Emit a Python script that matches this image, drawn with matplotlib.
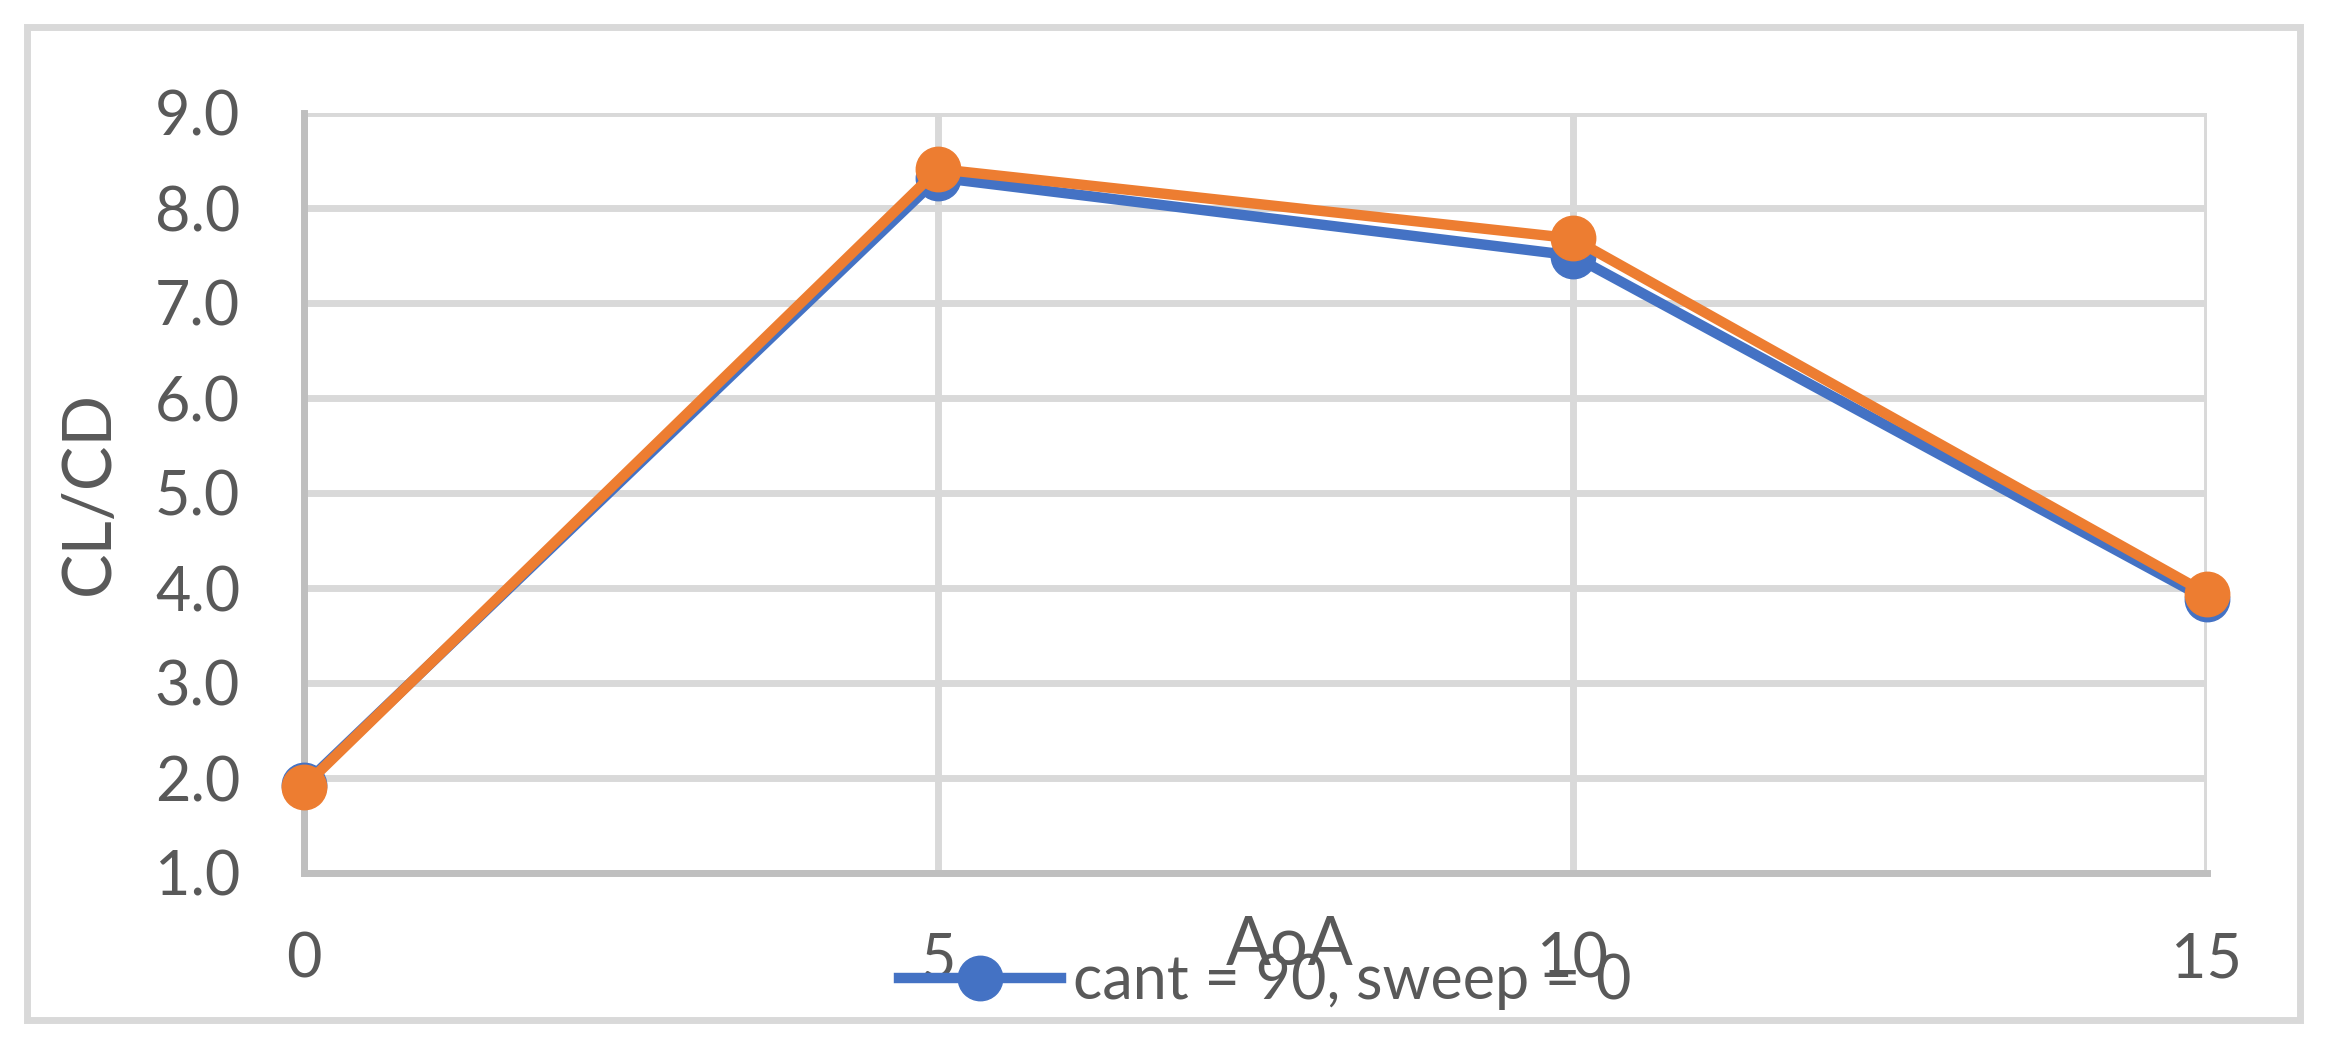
import matplotlib
matplotlib.use("Agg")
import matplotlib.pyplot as plt
from matplotlib.patches import Rectangle

# Data
aoa = [0, 5, 10, 15]
series_names = ["cant = 90, sweep = 0", "cant = 90, sweep = 10"]
series_blue = [1.93, 8.32, 7.50, 3.88]
series_orange = [1.91, 8.41, 7.68, 3.94]
y_ticks = [1.0, 2.0, 3.0, 4.0, 5.0, 6.0, 7.0, 8.0, 9.0]
x_ticks = [0, 5, 10, 15]
x_title = "AoA"
y_title = "CL/CD"

W, H = 2327, 1050
DPI = 100
plt.rcParams['font.family'] = ['Lato', 'DejaVu Sans']
TXT = '#595959'
GRID = '#D9D9D9'
AXC = '#BFBFBF'
BLUE = '#4472C4'
ORANGE = '#ED7D31'
FS = 44

fig = plt.figure(figsize=(W / DPI, H / DPI), dpi=DPI)
fig.patch.set_facecolor('white')

# outer chart border
fig.add_artist(Rectangle((27 / W, 1 - 1020 / H), (2300 - 27) / W, (1020 - 27) / H,
                         transform=fig.transFigure, fill=False, edgecolor=GRID, lw=5))

x0, x1 = 304, 2207
y0, y1 = 113, 873
ax = fig.add_axes([x0 / W, 1 - y1 / H, (x1 - x0) / W, (y1 - y0) / H])
ax.set_xlim(0, 15)
ax.set_ylim(1, 9)

for s in ['top', 'right']:
    ax.spines[s].set_visible(False)
for s in ['left', 'bottom']:
    ax.spines[s].set_color(AXC)
    ax.spines[s].set_linewidth(5)

ax.set_xticks(x_ticks)
ax.set_xticklabels([str(v) for v in x_ticks])
ax.set_yticks(y_ticks)
ax.set_yticklabels([f"{v:.1f}" for v in y_ticks])
ax.tick_params(axis='both', length=0, labelsize=FS, labelcolor=TXT)
ax.tick_params(axis='x', pad=42)
ax.tick_params(axis='y', pad=46)

ax.grid(True, color=GRID, lw=5)
ax.set_axisbelow(True)

l1, = ax.plot(aoa, series_blue, color=BLUE, lw=7.5, marker='o', ms=32,
              label=series_names[0], clip_on=False, zorder=3)
l2, = ax.plot(aoa, series_orange, color=ORANGE, lw=7.5, marker='o', ms=32,
              label=series_names[1], clip_on=False, zorder=4)

ax.set_ylabel(y_title, fontsize=48, color=TXT)
ax.yaxis.set_label_coords((90 - x0) / (x1 - x0), 0.5)
ax.yaxis.label.set_va('center')

ax.text((1290 - x0) / (x1 - x0), (y1 - 946) / (y1 - y0), x_title, transform=ax.transAxes,
        ha='center', va='center', fontsize=48, color=TXT, zorder=6)

leg = ax.legend(handles=[l1], loc='center left',
                bbox_to_anchor=(899 / W, 1 - 982 / H), bbox_transform=fig.transFigure,
                frameon=False, fontsize=FS, handlelength=2.65, handletextpad=0.2,
                borderpad=0, borderaxespad=0, markerscale=1.0)
for t in leg.get_texts():
    t.set_color(TXT)

fig.savefig('out.png', dpi=DPI)
